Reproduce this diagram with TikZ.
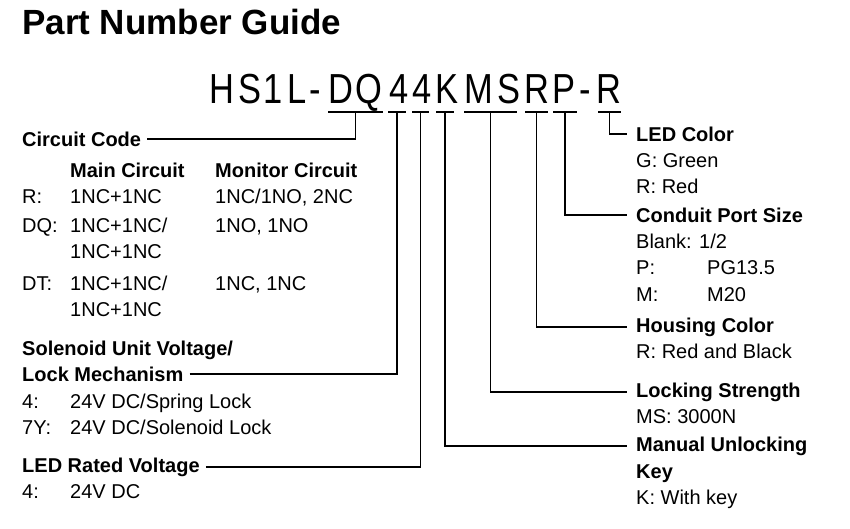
\documentclass[tikz,border=0pt]{standalone}
\usepackage{fontspec}
\setmainfont{Liberation Sans}
\usetikzlibrary{positioning}
\tikzset{
  txt/.style={anchor=base west, inner sep=0pt, font=\fontsize{20}{22}\selectfont},
  hd/.style={txt, font=\fontsize{20}{22}\selectfont\bfseries},
  pn/.style={anchor=base, inner sep=0pt, xscale=0.82, font=\fontsize{42}{46}\selectfont},
  ln/.style={line width=1.4pt}
}
\begin{document}
\begin{tikzpicture}[x=1pt,y=-1pt]
	\useasboundingbox (0,0) rectangle (850,528);
	\node[anchor=base west, inner sep=0pt, font=\fontsize{35}{38}\selectfont\bfseries] (title) at (22,34) {Part Number Guide};
	%part number letters
	\foreach \ch/\cx [count=\i] in {H/222,S/250,1/273,L/297,-/315,D/341,Q/369,4/399,4/422,K/447,M/479,S/509,R/537,P/564,-/585,R/609}
		\node[pn] (c\i) at (\cx,103) {\ch};
	%underline bars
	\foreach \a/\b/\nm in {328/383/dq,388/406/fa,412/429/fb,436/454/k,464/517/ms,525/548/r,553/577/p,598/621/lc}{
		\draw[ln] (\a,112) -- (\b,112);
		\coordinate (\nm) at ({(\a+\b)/2},112);
	}
	%Circuit Code
	\node[hd] (cc) at (22,146) {Circuit Code};
	\node[hd] at (70,177) {Main Circuit};
	\node[hd] at (215,177) {Monitor Circuit};
	\node[txt] at (22,203) {R:};
	\node[txt] at (70,203) {1NC+1NC};
	\node[txt] at (215,203) {1NC/1NO, 2NC};
	\node[txt] at (22,232) {DQ:};
	\node[txt] at (70,232) {1NC+1NC/};
	\node[txt] at (70,258) {1NC+1NC};
	\node[txt] at (215,232) {1NO, 1NO};
	\node[txt] at (22,290) {DT:};
	\node[txt] at (70,290) {1NC+1NC/};
	\node[txt] at (70,316) {1NC+1NC};
	\node[txt] at (215,290) {1NC, 1NC};
	%Solenoid
	\node[hd] at (22,355) {Solenoid Unit Voltage/};
	\node[hd] (sol) at (22,381) {Lock Mechanism};
	\node[txt] at (22,408) {4:};
	\node[txt] at (70,408) {24V DC/Spring Lock};
	\node[txt] at (22,434) {7Y:};
	\node[txt] at (70,434) {24V DC/Solenoid Lock};
	%LED Rated Voltage
	\node[hd] (led) at (22,472) {LED Rated Voltage};
	\node[txt] at (22,498) {4:};
	\node[txt] at (70,498) {24V DC};
	%right column
	\node[hd] (lcol) at (636,141) {LED Color};
	\node[txt] at (636,167) {G: Green};
	\node[txt] at (636,193) {R: Red};
	\node[hd] (cps) at (636,222) {Conduit Port Size};
	\node[txt] at (636,248) {Blank: 1/2};
	\node[txt] at (636,274) {P:};
	\node[txt] at (707,274) {PG13.5};
	\node[txt] at (636,301) {M:};
	\node[txt] at (707,301) {M20};
	\node[hd] (hc) at (636,332) {Housing Color};
	\node[txt] at (636,358) {R: Red and Black};
	\node[hd] (ls) at (636,397) {Locking Strength};
	\node[txt] at (636,423) {MS: 3000N};
	\node[hd] (mu) at (636,451) {Manual Unlocking};
	\node[hd] at (636,478) {Key};
	\node[txt] at (636,504) {K: With key};
	%leader lines
	\draw[ln] ([xshift=6pt]cc.east) -| (dq);
	\draw[ln] ([xshift=6pt]sol.east) -| (fa);
	\draw[ln] ([xshift=6pt]led.east) -| (fb);
	\draw[ln] (k) |- ([xshift=-9pt]mu.west);
	\draw[ln] (ms) |- ([xshift=-9pt]ls.west);
	\draw[ln] (r) |- ([xshift=-9pt]hc.west);
	\draw[ln] (p) |- ([xshift=-9pt]cps.west);
	\draw[ln] (lc) |- ([xshift=-9pt]lcol.west);
\end{tikzpicture}
\end{document}
